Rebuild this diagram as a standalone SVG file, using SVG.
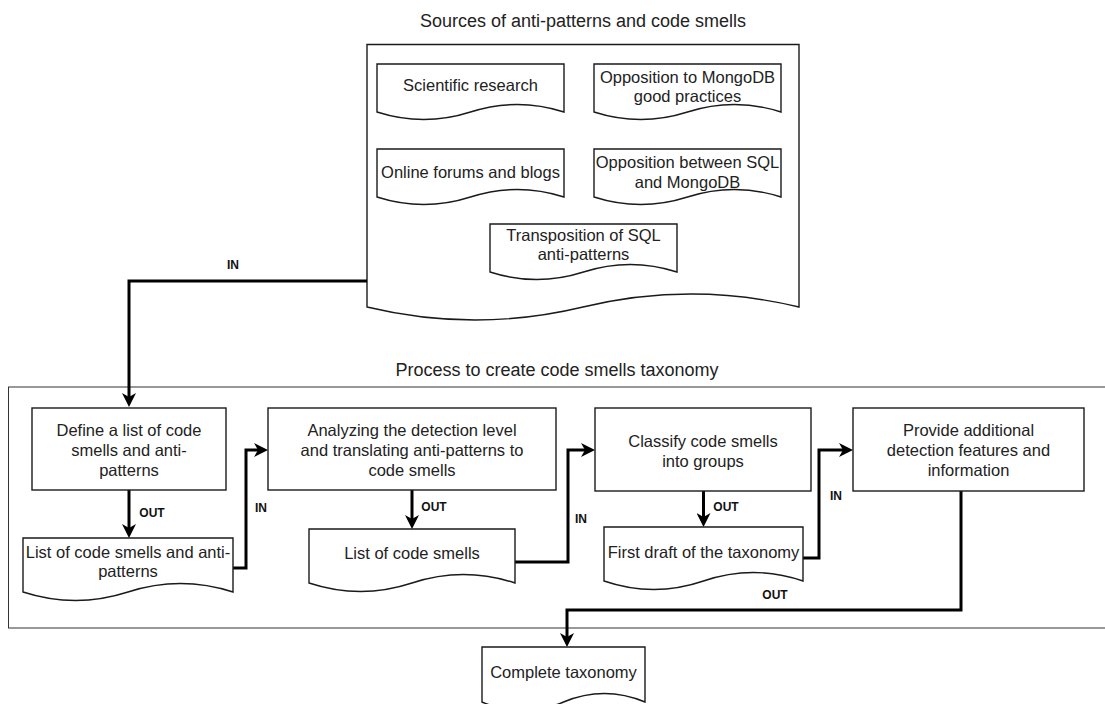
<svg xmlns="http://www.w3.org/2000/svg" width="1105" height="704" viewBox="0 0 1105 704">
<style>
.shape{fill:#fff;stroke:#1a1a1a;stroke-width:1.4}
.cont{fill:none;stroke:#333;stroke-width:1}
.t{font-family:"Liberation Sans",Arial,sans-serif;font-size:16.5px;fill:#222;text-anchor:middle}
.title{font-family:"Liberation Sans",Arial,sans-serif;font-size:18px;fill:#222;text-anchor:middle}
.lbl{font-family:"Liberation Sans",Arial,sans-serif;font-size:12px;font-weight:bold;fill:#111;text-anchor:middle}
.conn{fill:none;stroke:#000;stroke-width:3;stroke-linejoin:miter;marker-end:url(#arr)}
</style>
<defs>
<marker id="arr" viewBox="0 0 14 14" refX="4" refY="7" markerWidth="14" markerHeight="14" markerUnits="userSpaceOnUse" orient="auto">
<path d="M0,0 L14,7 L0,14 L4,7 Z" fill="#000"/>
</marker>
</defs>
<rect width="1105" height="704" fill="#fff"/>

<g id="process-container">
<rect class="cont" x="8.5" y="387" width="1100" height="241"/>
<text class="title" x="557" y="376">Process to create code smells taxonomy</text>
</g>

<g id="sources">
<path class="shape" d="M367,44.5 H799 V307 Q691,281 583,307 Q475,333 367,307 Z"/>
<text class="title" x="583" y="27">Sources of anti-patterns and code smells</text>
</g>
<g id="scientific">
<path class="shape" d="M377,64 H564 V112 Q517.25,97 470.5,112 Q423.75,127 377,112 Z"/>
<text class="t" x="470.5" y="90.5">Scientific research</text>
</g>
<g id="opp-mongo">
<path class="shape" d="M594,64 H781 V112 Q734.25,97 687.5,112 Q640.75,127 594,112 Z"/>
<text class="t" x="687.5" y="82.5">Opposition to MongoDB</text>
<text class="t" x="687.5" y="102">good practices</text>
</g>
<g id="forums">
<path class="shape" d="M377,149 H564 V197 Q517.25,182 470.5,197 Q423.75,212 377,197 Z"/>
<text class="t" x="470.5" y="177.5">Online forums and blogs</text>
</g>
<g id="opp-sql">
<path class="shape" d="M594,149 H781 V197 Q734.25,182 687.5,197 Q640.75,212 594,197 Z"/>
<text class="t" x="687.5" y="167.5">Opposition between SQL</text>
<text class="t" x="687.5" y="187.5">and MongoDB</text>
</g>
<g id="transposition">
<path class="shape" d="M490,224 H677 V272 Q630.25,257 583.5,272 Q536.75,287 490,272 Z"/>
<text class="t" x="583.5" y="240.5">Transposition of SQL</text>
<text class="t" x="583.5" y="259.5">anti-patterns</text>
</g>

<g id="connectors">
<path class="conn" d="M367,281 H129 V397"/>
<path class="conn" d="M129,490 V528"/>
<path class="conn" d="M233,568 H246 V450 H258"/>
<path class="conn" d="M412,490 V519"/>
<path class="conn" d="M515,562 H568 V450 H585"/>
<path class="conn" d="M703.5,491 V517"/>
<path class="conn" d="M803,558 H819 V450 H843"/>
<path class="conn" d="M961,491 V610 H567 V637"/>
<text class="lbl" x="233" y="268.5">IN</text>
<text class="lbl" x="152" y="516.5">OUT</text>
<text class="lbl" x="261" y="511.5">IN</text>
<text class="lbl" x="434" y="510.5">OUT</text>
<text class="lbl" x="581" y="522.5">IN</text>
<text class="lbl" x="726" y="510.5">OUT</text>
<text class="lbl" x="836" y="499.5">IN</text>
<text class="lbl" x="775" y="598.5">OUT</text>
</g>

<g id="define">
<rect class="shape" x="32" y="408" width="194" height="82"/>
<text class="t" x="129" y="436">Define a list of code</text>
<text class="t" x="129" y="456">smells and anti-</text>
<text class="t" x="129" y="476">patterns</text>
</g>
<g id="list1">
<path class="shape" d="M23,538 H233 V592 Q180.5,575 128,592 Q75.5,609 23,592 Z"/>
<text class="t" x="128" y="557.5">List of code smells and anti-</text>
<text class="t" x="128" y="577">patterns</text>
</g>
<g id="analyzing">
<rect class="shape" x="268" y="408" width="288" height="82"/>
<text class="t" x="412" y="436">Analyzing the detection level</text>
<text class="t" x="412" y="456">and translating anti-patterns to</text>
<text class="t" x="412" y="476">code smells</text>
</g>
<g id="list2">
<path class="shape" d="M309,529 H515 V583 Q463.5,566 412,583 Q360.5,600 309,583 Z"/>
<text class="t" x="412" y="558.5">List of code smells</text>
</g>
<g id="classify">
<rect class="shape" x="595" y="408" width="216" height="83"/>
<text class="t" x="703" y="446.5">Classify code smells</text>
<text class="t" x="703" y="466.5">into groups</text>
</g>
<g id="draft">
<path class="shape" d="M604,527 H803 V581 Q753.25,564 703.5,581 Q653.75,598 604,581 Z"/>
<text class="t" x="703.5" y="557.5">First draft of the taxonomy</text>
</g>
<g id="provide">
<rect class="shape" x="853" y="408" width="231" height="83"/>
<text class="t" x="968.5" y="436">Provide additional</text>
<text class="t" x="968.5" y="456">detection features and</text>
<text class="t" x="968.5" y="476">information</text>
</g>
<g id="complete">
<path class="shape" d="M482,647 H645 V702 Q604.25,685 563.5,702 Q522.75,719 482,702 Z"/>
<text class="t" x="563.5" y="677.5">Complete taxonomy</text>
</g>
</svg>
